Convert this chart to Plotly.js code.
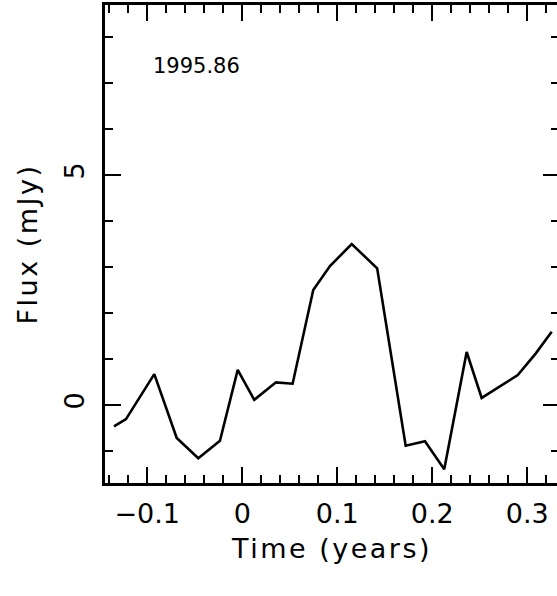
<!DOCTYPE html>
<html>
<head>
<meta charset="utf-8">
<script src="https://cdn.plot.ly/plotly-3.0.1.min.js"></script>
<style>
  html, body { margin: 0; padding: 0; background: #fff; overflow: hidden; }
  #plot { width: 562px; height: 596px; }
  #plot .xtitle, #plot .ytitle { letter-spacing: 2.5px; }
</style>
</head>
<body>
<div id="plot"></div>
<script>
// Time (years) relative to epoch
const timeYears = [-0.135, -0.1224, -0.0926, -0.069, -0.0463, -0.0235, -0.0048, 0.0126, 0.0355, 0.053,
                   0.0747, 0.0923, 0.1152, 0.142, 0.172, 0.1923, 0.2126, 0.2362, 0.252, 0.29, 0.309, 0.3257];
// Flux (mJy)
const fluxMJy = [-0.47, -0.31, 0.67, -0.72, -1.16, -0.78, 0.76, 0.11, 0.49, 0.46,
                 2.5, 3.02, 3.5, 2.97, -0.89, -0.79, -1.40, 1.15, 0.15, 0.65, 1.12, 1.59];
const epochLabel = "1995.86";
const xTickVals = [-0.1, 0, 0.1, 0.2, 0.3];
const xTickText = ["\u22120.1", "0", "0.1", "0.2", "0.3"];
const yTickVals = [0, 5];
const yTickText = ["0", "5"];

const font = "DejaVu Sans, Liberation Sans, sans-serif";

const trace = {
  x: timeYears, y: fluxMJy, type: "scatter", mode: "lines",
  line: {color: "#000", width: 2.6}, hoverinfo: "skip"
};

const axisCommon = {
  showgrid: false, zeroline: false, showline: true, linecolor: "#000", linewidth: 2.6,
  mirror: "ticks", ticks: "inside", ticklen: 16, tickwidth: 2, tickcolor: "#000",
  tickfont: {family: font, size: 27, color: "#000"}
};

const layout = {
  width: 562, height: 596,
  margin: {l: 105, r: 3, t: 5, b: 113},
  paper_bgcolor: "#fff", plot_bgcolor: "#fff",
  showlegend: false,
  xaxis: Object.assign({}, axisCommon, {
    range: [-0.1445, 0.3334],
    tickmode: "array", tickvals: xTickVals, ticktext: xTickText,
    ticklabelstandoff: 5,
    minor: {dtick: 0.02, tick0: 0, ticks: "inside", ticklen: 8, tickwidth: 2, tickcolor: "#000"},
    title: {text: "Time (years)", font: {family: font, size: 27, color: "#000"}, standoff: 11}
  }),
  yaxis: Object.assign({}, axisCommon, {
    range: [-1.70, 8.70],
    tickmode: "array", tickvals: yTickVals, ticktext: yTickText, tickangle: -90,
    ticklabelstandoff: 8,
    minor: {dtick: 1, tick0: 0, ticks: "inside", ticklen: 8, tickwidth: 2, tickcolor: "#000"},
    title: {text: "Flux (mJy)", font: {family: font, size: 27, color: "#000"}, standoff: 13}
  }),
  annotations: [{
    x: -0.096, y: 7.37, xref: "x", yref: "y", text: epochLabel, showarrow: false,
    xanchor: "left", yanchor: "middle", font: {family: font, size: 21, color: "#000"}
  }]
};

Plotly.newPlot("plot", [trace], layout, {staticPlot: true, displayModeBar: false});
</script>
</body>
</html>
